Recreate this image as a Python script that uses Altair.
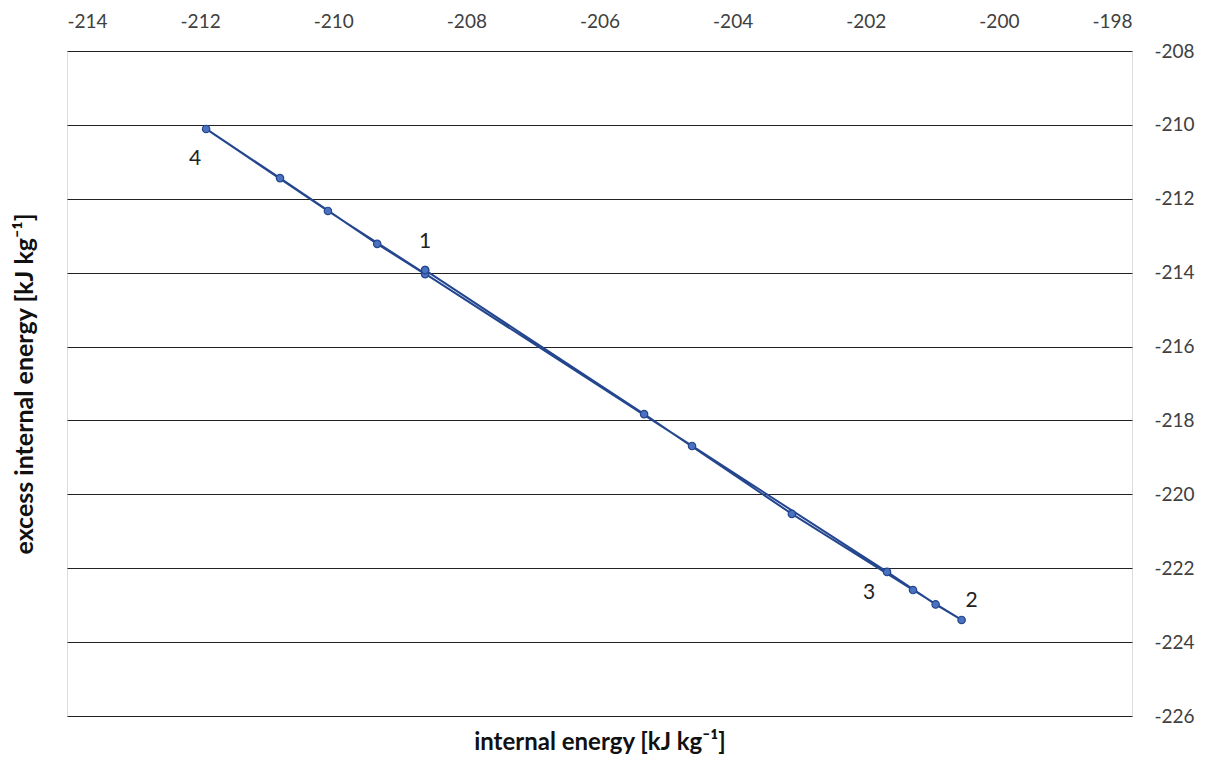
import altair as alt
import pandas as pd

# cycle path 1 -> 2 -> 3 -> 4 -> 1
u = [-208.62, -205.33, -203.11, -201.29, -200.56, -200.95, -201.68, -204.61,
     -210.08, -211.91, -210.80, -209.34, -208.62, -208.62]
ue = [-213.93, -217.83, -220.53, -222.59, -223.40, -222.98, -222.10, -218.69,
      -212.33, -210.11, -211.44, -213.22, -214.04, -213.93]
order = list(range(len(u)))

lab_text = ["1", "2", "3", "4"]
lab_u = [-208.62, -200.56, -201.68, -211.91]
lab_ue = [-213.93, -223.40, -222.10, -210.11]
lab_dx = [0, 10, -18, -11]
lab_dy = [-28, -19, 21, 30]

df = pd.DataFrame({"u": u, "ue": ue, "order": order})
labels = pd.DataFrame({"u": lab_u, "ue": lab_ue, "t": lab_text})

FONT = "Lato"
xs = alt.Scale(domain=[-214, -198], nice=False)
ys = alt.Scale(domain=[-226, -208], nice=False)

line = alt.Chart(df).mark_line(color="#24468F", strokeWidth=2).encode(
    x=alt.X("u:Q", scale=xs, axis=alt.Axis(orient="top", values=list(range(-214, -197, 2)),
            labelExpr="datum.value + ''",
            grid=False, ticks=False, domain=False, labelPadding=20, title=None,
            labelFontSize=19, labelColor="#404040", labelFont=FONT)),
    y=alt.Y("ue:Q", scale=ys, axis=alt.Axis(orient="right", values=list(range(-226, -207, 2)),
            labelExpr="datum.value + ''",
            grid=True, gridColor="#222", gridWidth=1, ticks=False, domain=False,
            labelPadding=22, title=None, labelFontSize=19, labelColor="#404040", labelFont=FONT)),
    order="order:Q",
)

pts = alt.Chart(df).mark_point(filled=True, size=55, fill="#4A72C0", stroke="#24468F",
                               strokeWidth=1.2, opacity=1).encode(
    x=alt.X("u:Q", scale=xs, axis=None), y=alt.Y("ue:Q", scale=ys, axis=None))

texts = []
for i in range(len(lab_text)):
    texts.append(
        alt.Chart(labels.iloc[[i]]).mark_text(fontSize=21, font=FONT, color="#222",
                                              dx=lab_dx[i], dy=lab_dy[i]).encode(
            x=alt.X("u:Q", scale=xs, axis=None), y=alt.Y("ue:Q", scale=ys, axis=None), text="t:N")
    )

titles = alt.Chart(labels).mark_point(opacity=0).encode(
    x=alt.X("u:Q", scale=xs, axis=alt.Axis(orient="bottom", labels=False, ticks=False, domain=False,
            grid=False, title="internal energy [kJ kg⁻¹]", titleFontSize=24, titleFont=FONT,
            titleFontWeight="bold", titleColor="#111", titlePadding=14)),
    y=alt.Y("ue:Q", scale=ys, axis=alt.Axis(orient="left", labels=False, ticks=False, domain=False,
            grid=False, title="excess internal energy [kJ kg⁻¹]", titleFontSize=25, titleFont=FONT,
            titleFontWeight="bold", titleColor="#111", titlePadding=30)),
)

chart = alt.layer(line, pts, *texts, titles).resolve_axis(x="independent", y="independent").properties(
    width=1065, height=665,
    autosize=alt.AutoSizeParams(type="none"),
    padding={"left": 59, "top": 43, "right": 68, "bottom": 42},
).configure_view(stroke="#555", strokeWidth=1.2).configure(background="white")

chart.save("out.html", embed_options={"renderer": "svg", "actions": False})
